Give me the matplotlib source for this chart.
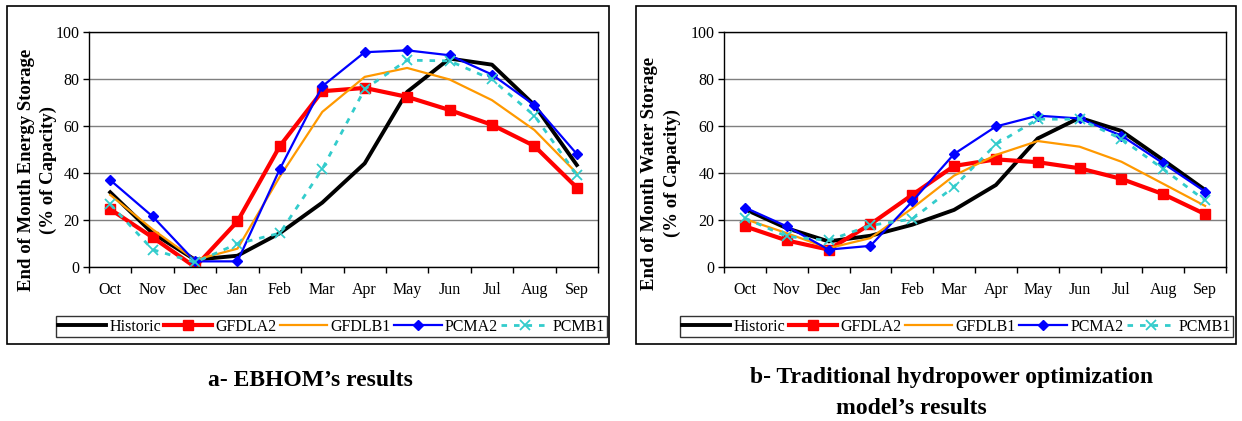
import numpy as np
import matplotlib
matplotlib.use('Agg')
import matplotlib.pyplot as plt
from matplotlib.patches import Rectangle
from matplotlib.ticker import FixedLocator, NullFormatter

plt.rcParams['font.family'] = ['Liberation Serif', 'DejaVu Serif']

months = ['Oct', 'Nov', 'Dec', 'Jan', 'Feb', 'Mar', 'Apr', 'May', 'Jun', 'Jul', 'Aug', 'Sep']
series_names = ['Historic', 'GFDLA2', 'GFDLB1', 'PCMA2', 'PCMB1']

# a- EBHOM (energy storage, % of capacity)
a_historic = [31.8, 14.4, 3.1, 4.8, 14.4, 27.4, 44.1, 74.5, 88.7, 86.1, 68.9, 43.4]
a_gfdla2 = [24.6, 12.6, 0.0, 19.4, 51.5, 74.8, 76.2, 72.4, 66.8, 60.5, 51.5, 33.8]
a_gfdlb1 = [30.7, 16.0, 3.0, 7.8, 38.5, 66.0, 80.9, 84.7, 79.8, 71.0, 58.3, 39.9]
a_pcma2 = [37.0, 21.5, 2.4, 2.4, 41.7, 76.9, 91.4, 92.2, 90.1, 81.9, 68.9, 48.1]
a_pcmb1 = [26.7, 7.4, 2.0, 9.9, 14.4, 41.7, 75.7, 88.0, 87.7, 79.8, 64.4, 39.2]

# b- traditional model (water storage, % of capacity)
b_historic = [24.6, 16.5, 10.9, 13.3, 18.0, 24.3, 34.9, 54.7, 63.5, 57.9, 45.5, 32.8]
b_gfdla2 = [17.3, 11.3, 7.4, 18.2, 30.7, 43.0, 45.8, 44.6, 42.0, 37.5, 31.0, 22.5]
b_gfdlb1 = [20.4, 14.4, 8.0, 12.3, 25.0, 38.9, 47.7, 53.6, 51.2, 44.8, 35.4, 26.0]
b_pcma2 = [25.3, 17.3, 7.4, 9.0, 27.9, 48.1, 59.8, 64.4, 63.2, 55.9, 44.1, 32.1]
b_pcmb1 = [20.8, 13.0, 11.3, 17.7, 20.4, 34.2, 52.2, 62.9, 62.9, 54.5, 41.7, 28.3]

styles = [
    dict(color='black', lw=2.8),
    dict(color='#FF0000', lw=3.0, marker='s', ms=7.5),
    dict(color='#FF9900', lw=1.6),
    dict(color='#0000FF', lw=1.6, marker='D', ms=5),
    dict(color='#33CCCC', lw=2.0, ls=(0, (2, 2.5)), marker='x', ms=6.5, mew=1.3),
]

W, H = 1242, 421
fig = plt.figure(figsize=(W / 100, H / 100), dpi=100)


def px_axes(x0, x1, y0, y1):
    return fig.add_axes([x0 / W, 1 - y1 / H, (x1 - x0) / W, (y1 - y0) / H])


def draw_panel(ax, data):
    x = np.arange(len(months))
    lines = []
    for name, vals, st in zip(series_names, data, styles):
        ln, = ax.plot(x, vals, label=name, **st)
        lines.append(ln)
    ax.set_xlim(-0.5, 11.5)
    ax.set_ylim(0, 100)
    ax.set_yticks(np.arange(0, 101, 20))
    ax.yaxis.grid(True, color='#7f7f7f', lw=1)
    ax.set_axisbelow(True)
    ax.xaxis.set_major_locator(FixedLocator(np.arange(-0.5, 12, 1)))
    ax.xaxis.set_major_formatter(NullFormatter())
    ax.xaxis.set_minor_locator(FixedLocator(x))
    ax.set_xticklabels(months, minor=True)
    ax.tick_params(axis='x', which='major', direction='out', length=4, width=1)
    ax.tick_params(axis='x', which='minor', length=0, pad=11, labelsize=11.5)
    ax.tick_params(axis='y', direction='out', length=4, width=1, labelsize=11.5, pad=3)
    for s in ax.spines.values():
        s.set_color('black')
        s.set_linewidth(1)
    return lines


def legend(lines, x0, x1, y0, y1):
    fig.legend(lines, series_names, ncol=5, loc='lower left', mode='expand',
               bbox_to_anchor=(x0 / W, 1 - y1 / H, (x1 - x0) / W, (y1 - y0) / H),
               fontsize=11.5, frameon=True, fancybox=False, edgecolor='black',
               handlelength=3.0, handletextpad=0.2, columnspacing=0.4,
               borderpad=0.15, borderaxespad=0)


# panel frames
fig.patches.append(Rectangle((7 / W, 1 - 344 / H), (609 - 7) / W, (344 - 6) / H,
                             transform=fig.transFigure, fill=False, ec='black', lw=1.2))
fig.patches.append(Rectangle((636 / W, 1 - 344 / H), (1236 - 636) / W, (344 - 6) / H,
                             transform=fig.transFigure, fill=False, ec='black', lw=1.2))

ax1 = px_axes(89, 598, 32, 267)
l1 = draw_panel(ax1, [a_historic, a_gfdla2, a_gfdlb1, a_pcma2, a_pcmb1])
legend(l1, 56, 607, 314, 337)

ax2 = px_axes(724, 1226, 32, 267)
l2 = draw_panel(ax2, [b_historic, b_gfdla2, b_gfdlb1, b_pcma2, b_pcmb1])
legend(l2, 680, 1233, 314, 337)

ylab = dict(rotation=90, ha='center', va='center', fontsize=13.5, fontweight='bold')
fig.text(27 / W, 1 - 170 / H, 'End of Month Energy Storage', **ylab)
fig.text(48 / W, 1 - 170 / H, '(% of Capacity)', **ylab)
fig.text(650 / W, 1 - 173 / H, 'End of Month Water Storage', **ylab)
fig.text(672 / W, 1 - 173 / H, '(% of Capacity)', **ylab)

cap = dict(ha='center', va='center', fontsize=17, fontweight='bold')
fig.text(310 / W, 1 - 380 / H, 'a- EBHOM\u2019s results', **cap)
fig.text(952 / W, 1 - 378 / H, 'b- Traditional hydropower optimization', **cap)
fig.text(911 / W, 1 - 408 / H, 'model\u2019s results', **cap)

fig.savefig('out.png', dpi=100)
